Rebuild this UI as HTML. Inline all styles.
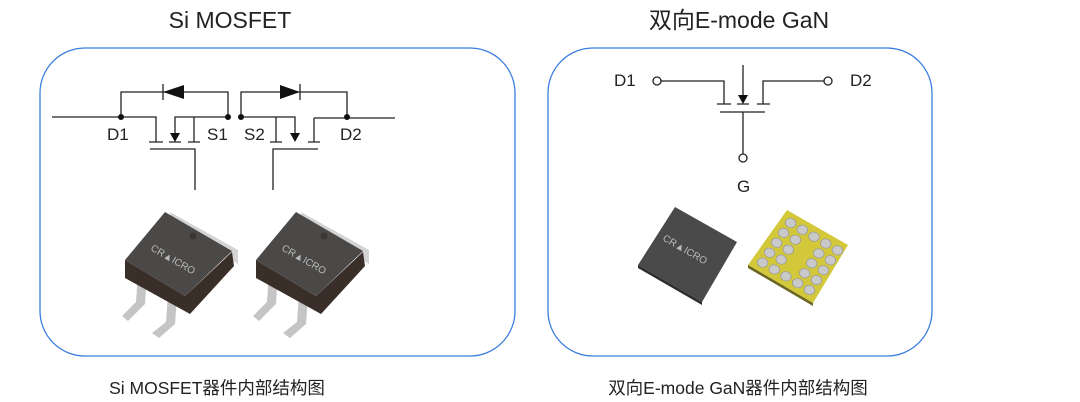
<!DOCTYPE html>
<html><head><meta charset="utf-8"><style>
html,body{margin:0;padding:0;background:#fff;}
svg{display:block;}
text{font-family:"Liberation Sans","Noto Sans CJK SC",sans-serif;fill:#222;}
</style></head><body>
<svg width="1080" height="402" viewBox="0 0 1080 402" xmlns="http://www.w3.org/2000/svg">
<text x="230" y="28" font-size="23" text-anchor="middle">Si MOSFET</text>
<text x="739" y="28" font-size="23" text-anchor="middle">双向E-mode GaN</text>
<rect x="40" y="48" width="475" height="308" rx="45" fill="none" stroke="#3b7ddd" stroke-width="1.3"/>
<rect x="548" y="48" width="384" height="308" rx="45" fill="none" stroke="#3b7ddd" stroke-width="1.3"/>
<text x="217" y="394" font-size="17.5" text-anchor="middle">Si MOSFET器件内部结构图</text>
<text x="738" y="394" font-size="17.5" text-anchor="middle">双向E-mode GaN器件内部结构图</text>

<g stroke="#222" stroke-width="1.3" fill="none">
<path d="M52 117H121V92H228V117"/>
<path d="M241 117V92H347V118"/>
<path d="M314 118H395"/>
<path d="M121 117H156V142M149 142H163"/>
<path d="M228 117H175V136M169 142H181"/>
<path d="M194 117V142M188 142H200"/>
<path d="M150 149H195V190"/>
<path d="M241 117H295V136"/>
<path d="M276 117V142M270 142H282"/>
<path d="M314 118V142M308 142H320"/>
<path d="M273 190V149H318"/>
<path d="M163 84V100M300 84V100"/>
<path d="M661 81H724V104M717 104H731"/>
<path d="M824 81H763V104M757 104H770"/>
<path d="M743 65V98M737 104H749"/>
<path d="M720 112H765M743 112V154"/>
<circle cx="657" cy="81" r="4" fill="#fff"/>
<circle cx="828" cy="81" r="4" fill="#fff"/>
<circle cx="743" cy="158" r="4" fill="#fff"/>
</g>
<g fill="#111">
<circle cx="121" cy="117" r="3"/><circle cx="228" cy="117" r="3"/>
<circle cx="241" cy="117" r="3"/><circle cx="347" cy="117" r="3"/>
<polygon points="163,92 184,85 184,99"/>
<polygon points="300,92 280,85 280,99"/>
<polygon points="170,133 180,133 175,142"/>
<polygon points="290,133 300,133 295,142"/>
<polygon points="738,95 748,95 743,104"/>
</g>
<g font-size="17">
<text x="107" y="140">D1</text><text x="207" y="140">S1</text>
<text x="244" y="140">S2</text><text x="340" y="140">D2</text>
<text x="614" y="86">D1</text><text x="850" y="86">D2</text>
<text x="737" y="192">G</text>
</g>

<defs>
<g id="pkg">
<polygon points="170,212 238,250 238,264 172,224" fill="#d4d4d4"/>
<path d="M138 272 L136 302 L122 316 L128 321 L145 304 L147 274Z" fill="#c5c5c5"/>
<path d="M168 294 L166 322 L152 333 L159 338 L175 324 L177 297Z" fill="#c5c5c5"/>
<rect x="149" y="281" width="11" height="9" fill="#c5c5c5"/>
<polygon points="125,260 185,296 232,252 234,266 190,314 125,278" fill="#3a2e29"/>
<polygon points="165,212 232,251 185,296 125,260" fill="#4b4947"/>
<circle cx="193" cy="236" r="3.5" fill="#3a3836"/>
<text x="0" y="0" font-size="10" style="fill:#bbb" transform="translate(150,250) rotate(30)">CR▲ICRO</text>
</g>
</defs>
<use href="#pkg"/>
<use href="#pkg" transform="translate(131,0)"/>

<polygon points="675,207 737,242 702,302 638,265" fill="#4a4a4a"/>
<polygon points="638,265 702,302 702,305 638,268" fill="#2d2d2d"/>
<text font-size="10" style="fill:#bbb" transform="translate(662,240) rotate(30)">CR▲ICRO</text>
<polygon points="787,210 848,245 813,303 748,265" fill="#d2c83a"/>
<polygon points="748,265 813,303 813,306 748,268" fill="#6b6520"/>
<g transform="matrix(39 -55 65 38 748 265)" fill="#c9c9c9" stroke="#999" stroke-width="0.01">
<circle cx="0.14" cy="0.14" r="0.07"/><circle cx="0.32" cy="0.14" r="0.07"/><circle cx="0.5" cy="0.14" r="0.07"/><circle cx="0.68" cy="0.14" r="0.07"/><circle cx="0.86" cy="0.14" r="0.07"/>
<circle cx="0.14" cy="0.32" r="0.07"/><circle cx="0.32" cy="0.32" r="0.07"/><circle cx="0.5" cy="0.32" r="0.07"/><circle cx="0.68" cy="0.32" r="0.07"/><circle cx="0.86" cy="0.32" r="0.07"/>
<circle cx="0.14" cy="0.5" r="0.07"/><circle cx="0.86" cy="0.5" r="0.07"/>
<circle cx="0.14" cy="0.68" r="0.07"/><circle cx="0.32" cy="0.68" r="0.07"/><circle cx="0.5" cy="0.68" r="0.07"/><circle cx="0.68" cy="0.68" r="0.07"/><circle cx="0.86" cy="0.68" r="0.07"/>
<circle cx="0.14" cy="0.86" r="0.07"/><circle cx="0.32" cy="0.86" r="0.07"/><circle cx="0.5" cy="0.86" r="0.07"/><circle cx="0.68" cy="0.86" r="0.07"/><circle cx="0.86" cy="0.86" r="0.07"/>
</g>
</svg>
</body></html>
